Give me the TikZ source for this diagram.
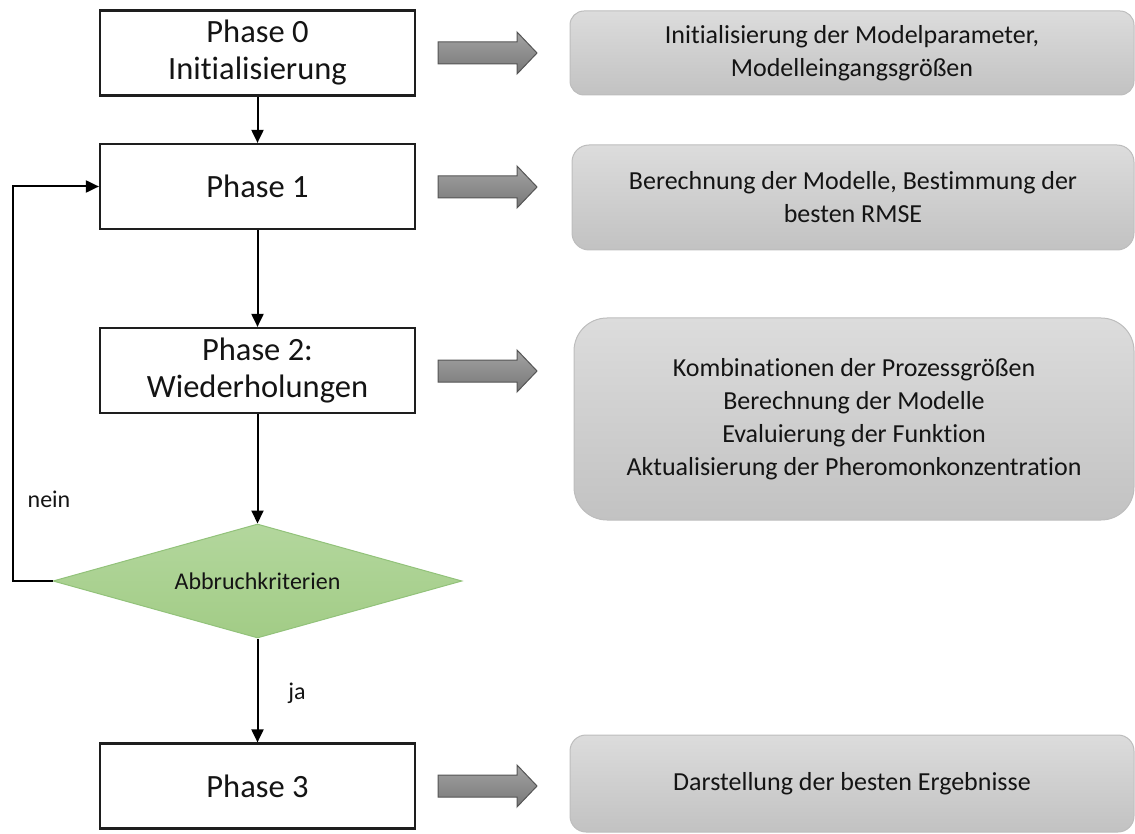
\documentclass[tikz,border=0pt]{standalone}
\usepackage{fontspec}
\setmainfont{Carlito}[Ligatures=NoCommon]
\usetikzlibrary{shapes.geometric,arrows.meta}
\definecolor{txt}{HTML}{141414}
\definecolor{boxline}{HTML}{1E1E1E}
\definecolor{rtop}{HTML}{DCDCDC}
\definecolor{rbot}{HTML}{C2C2C2}
\definecolor{rline}{HTML}{BDBDBD}
\definecolor{atop}{HTML}{A3A3A3}
\definecolor{abot}{HTML}{777777}
\definecolor{aline}{HTML}{555555}
\definecolor{gtop}{HTML}{B3D79D}
\definecolor{gbot}{HTML}{A2CC86}
\definecolor{gline}{HTML}{92C27A}
\tikzset{
  phasebox/.style={draw=boxline, line width=2.2pt, fill=white, minimum width=315pt, minimum height=85pt, inner sep=0pt, align=center, text=txt, font=\fontsize{32.5}{37}\selectfont},
  infobox/.style={draw=rline, line width=1pt, top color=rtop, bottom color=rbot, inner sep=0pt, align=center, text=txt, font=\fontsize{26}{33}\selectfont},
  decision/.style={diamond, draw=gline, line width=1pt, top color=gtop, bottom color=gbot, aspect=3.6, minimum width=409pt, minimum height=114pt, inner sep=0pt, text=txt, font=\fontsize{24}{28}\selectfont},
  conn/.style={line width=2pt, draw=black, -{Triangle[length=13pt,width=12pt]}},
  lbl/.style={text=txt, font=\fontsize{24}{29}\selectfont, inner sep=0pt},
  garrow/.style={draw=aline, line width=1pt, top color=atop, bottom color=abot}
}
\newcommand\blockarrow[1]{%
  \path[garrow] (438,{#1-11}) -- (517,{#1-11}) -- (517,{#1-21}) -- (537,#1) -- (517,{#1+21}) -- (517,{#1+11}) -- (438,{#1+11}) -- cycle;}
\begin{document}
\begin{tikzpicture}[x=1pt,y=-1pt]
\useasboundingbox (0,0) rectangle (1135,834);
% phase boxes
\node[phasebox] (p0) at (257.5,53) {Phase 0\\Initialisierung};
\node[phasebox] (p1) at (257.5,186.5) {Phase 1};
\node[phasebox] (p2) at (257.5,370.5) {Phase 2:\\Wiederholungen};
\node[decision] (d) at (257.5,581) {Abbruchkriterien};
\node[phasebox] (p3) at (257.5,786) {Phase 3};
% info boxes
\node[infobox, rounded corners=14pt, minimum width=564pt, minimum height=84pt] (r0) at (852,53) {Initialisierung der Modelparameter,\\Modelleingangsgrößen};
\node[infobox, rounded corners=17pt, minimum width=562pt, minimum height=105pt] (r1) at (853,197.5) {Berechnung der Modelle, Bestimmung der\\besten RMSE};
\node[infobox, rounded corners=33pt, minimum width=560pt, minimum height=202pt] (r2) at (854,419) {Kombinationen der Prozessgrößen\\Berechnung der Modelle\\Evaluierung der Funktion\\Aktualisierung der Pheromonkonzentration};
\node[infobox, rounded corners=16pt, minimum width=564pt, minimum height=97pt] (r3) at (852,783.5) {Darstellung der besten Ergebnisse};
% block arrows
\blockarrow{53}
\blockarrow{187}
\blockarrow{371}
\blockarrow{786}
% connectors
\draw[conn] (p0) -- (p1);
\draw[conn] (p1) -- (p2);
\draw[conn] (p2) -- (d.north);
\draw[conn] (d.south) -- (p3);
\coordinate (fb) at (13,581);
\draw[conn] (d.west) -- (fb) |- (p1.west);
\node[lbl] (nein) at (49,499) {nein};
\node[lbl] (ja) at (297,693) {ja};
\end{tikzpicture}
\end{document}
